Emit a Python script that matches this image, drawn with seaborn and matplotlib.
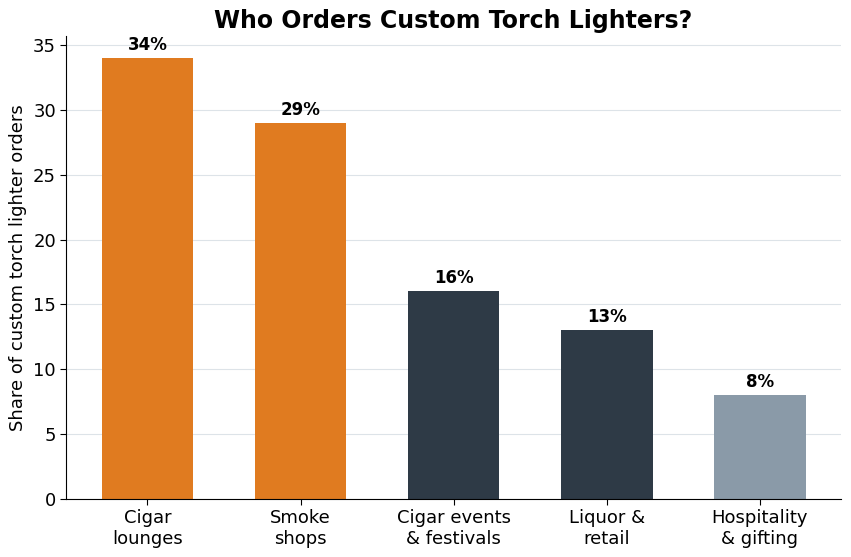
import matplotlib
matplotlib.use("Agg")
import matplotlib.pyplot as plt
import seaborn as sns
import pandas as pd

categories = ["Cigar\nlounges", "Smoke\nshops", "Cigar events\n& festivals", "Liquor &\nretail", "Hospitality\n& gifting"]
shares = [34, 29, 16, 13, 8]
bar_colors = ["#E07B20", "#E07B20", "#2E3A46", "#2E3A46", "#8A9AA8"]

df = pd.DataFrame({"category": categories, "share": shares})

sns.set_style("white")
plt.rcParams['font.family'] = ['DejaVu Sans']
plt.rcParams['text.color'] = 'black'
plt.rcParams['axes.labelcolor'] = 'black'
plt.rcParams['xtick.color'] = 'black'
plt.rcParams['ytick.color'] = 'black'

fig, ax = plt.subplots(figsize=(8.51, 5.57), dpi=100)
sns.barplot(data=df, x="category", y="share", hue="category", palette=bar_colors,
            legend=False, width=0.6, saturation=1, linewidth=0, ax=ax)

# value labels above bars
for i, v in enumerate(shares):
    ax.text(i, v + 0.3, f"{v}%", ha="center", va="bottom", fontsize=12, fontweight="bold", color="black")

ax.set_ylim(0, 35.7)
ax.set_xlim(-0.53, 4.53)
ax.yaxis.grid(True, color="#DDE3E8", linewidth=0.8)
ax.set_axisbelow(True)
sns.despine(ax=ax)
ax.tick_params(axis="both", labelsize=13, length=4, color="black", left=True, bottom=True)
ax.spines["left"].set_color("black")
ax.spines["bottom"].set_color("black")
ax.set_xlabel("")
ax.set_ylabel("Share of custom torch lighter orders", fontsize=13)
ax.set_title("Who Orders Custom Torch Lighters?", fontsize=17, fontweight="bold")

fig.subplots_adjust(left=0.078, right=0.988, top=0.935, bottom=0.105)
fig.savefig("out.png", dpi=100)
